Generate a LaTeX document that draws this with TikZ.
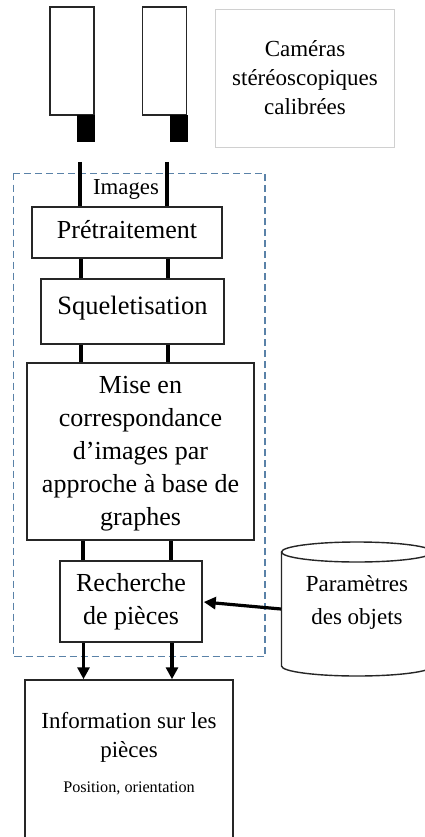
\documentclass[tikz,border=0pt]{standalone}
\usepackage{fontspec}
\setmainfont{Liberation Serif}
\usetikzlibrary{arrows.meta,calc}
\definecolor{boxline}{HTML}{262626}
\definecolor{dashblue}{HTML}{5A82A8}
\definecolor{legendline}{HTML}{D0D0D0}
\tikzset{
  procbox/.style={draw=boxline,line width=1.5pt,fill=white,align=center,inner sep=0pt,text=black,font=\fontsize{26}{33}\selectfont},
  link/.style={draw=black,line width=3.4pt},
  linkarrow/.style={draw=black,line width=3.2pt,-{Triangle[length=12pt,width=12pt]}},
  camera/.style={draw=boxline,line width=1.5pt,fill=white,inner sep=0pt},
  lens/.style={fill=black,draw=none,inner sep=0pt},
  plain/.style={align=center,inner sep=0pt,text=black}
}
\begin{document}
\begin{tikzpicture}[x=1pt,y=-1pt]
\useasboundingbox (0,0) rectangle (424,837);
\fill[white] (0,0) rectangle (424,837);
% dashed frame
\draw[dashblue,line width=1.7pt,dash pattern=on 7pt off 4pt] (13.5,173.5) rectangle (265,656.5);
% cameras
\node[camera,minimum width=44pt,minimum height=108pt] (camA) at (72,61) {};
\node[camera,minimum width=44pt,minimum height=108pt] (camB) at (164.5,61) {};
\node[lens,minimum width=18pt,minimum height=27pt] (lensA) at (86,128.5) {};
\node[lens,minimum width=18pt,minimum height=27pt] (lensB) at (179,128.5) {};
% legend
\node[draw=legendline,line width=0.8pt,minimum width=179pt,minimum height=138pt,align=center,inner sep=0pt,
  font=\fontsize{23}{29}\selectfont] (legend) at (305,78) {Caméras\\stéréoscopiques\\calibrées};
% boxes
\node[procbox,minimum width=190pt,minimum height=51pt,text depth=7pt] (pre) at (127,232.5) {Prétraitement};
\node[procbox,minimum width=183pt,minimum height=65pt,text depth=12pt,font=\fontsize{26.5}{33}\selectfont] (sq) at (132.5,311.5) {Squeletisation};
\node[procbox,minimum width=227pt,minimum height=177pt] (mise) at (140.5,451.5) {};
\node[plain,font=\fontsize{26}{33}\selectfont] (misetxt) at (140.5,454) {Mise en\\correspondance\\d’images par\\approche à base de\\graphes};
\node[procbox,minimum width=142pt,minimum height=81pt] (rech) at (131,601.5) {Recherche\\de pièces};
% info box, open at the bottom of the page
\node[draw=boxline,line width=1.5pt,minimum width=208pt,minimum height=170pt,inner sep=0pt] (info) at (129,765) {};
\node[plain,font=\fontsize{23}{29}\selectfont] (infotxt) at (129,737) {Information sur les\\pièces};
\node[plain,font=\fontsize{16.2}{18}\selectfont] (infosub) at (129,788) {Position, orientation};
% images label
\node[plain,font=\fontsize{22.8}{24}\selectfont] (img) at (126,189) {Images};
% cylinder
\draw[boxline,line width=1.4pt,fill=white] (281.5,552) -- (281.5,666) arc[start angle=180,end angle=360,x radius=75.5pt,y radius=10pt] -- (432.5,552);
\draw[boxline,line width=1.4pt,fill=white] (357,552) ellipse[x radius=75.5pt,y radius=10pt];
\node[plain,font=\fontsize{23}{33}\selectfont] (param) at (357,602) {Paramètres\\des objets};
\coordinate (paramW) at (281,609);
% links
\coordinate (camOutA) at (80,162);
\coordinate (camOutB) at (167,162);
\draw[link] (camOutA) -- (camOutA |- pre.north);
\draw[link] (camOutB) -- (camOutB |- pre.north);
\draw[link] (pre.south -| 81,0) -- (sq.north -| 81,0);
\draw[link] (pre.south -| 168,0) -- (sq.north -| 168,0);
\draw[link] (sq.south -| 81,0) -- (mise.north -| 81,0);
\draw[link] (sq.south -| 168,0) -- (mise.north -| 168,0);
\draw[link] (mise.south -| 83,0) -- (rech.north -| 83,0);
\draw[link] (mise.south -| 171,0) -- (rech.north -| 171,0);
\draw[linkarrow] (rech.south -| 83.5,0) -- (info.north -| 83.5,0);
\draw[linkarrow] (rech.south -| 172,0) -- (info.north -| 172,0);
\draw[linkarrow] (paramW) -- ($(rech.east)+(1,0.5)$);
\end{tikzpicture}
\end{document}
